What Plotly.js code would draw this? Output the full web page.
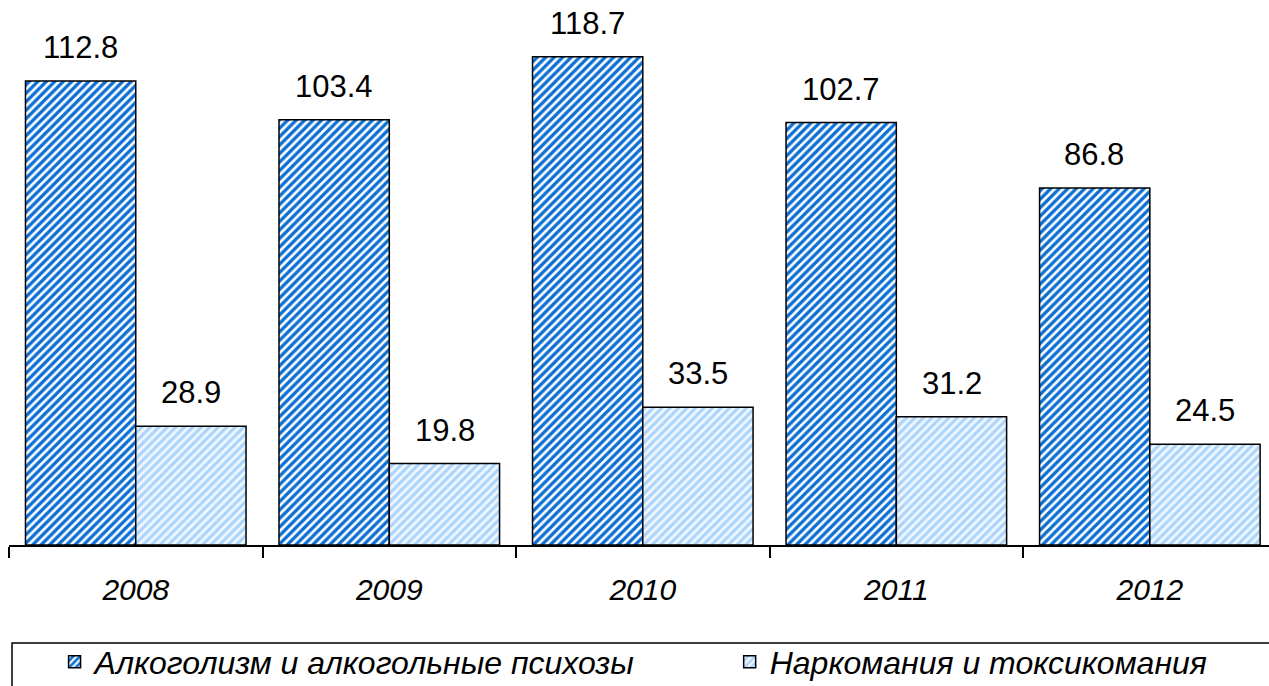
<!DOCTYPE html>
<html><head><meta charset="utf-8">
<script src="https://cdn.plot.ly/plotly-3.0.1.min.js"></script>
<style>html,body{margin:0;padding:0;background:#fff}#chart{width:1269px;height:686px}</style>
</head><body><div id="chart"></div>
<script>
const years = ['2008','2009','2010','2011','2012'];
const seriesNames = ['Алкоголизм и алкогольные психозы','Наркомания и токсикомания'];
const alcohol = [112.8, 103.4, 118.7, 102.7, 86.8];
const drugs = [28.9, 19.8, 33.5, 31.2, 24.5];

const FONT = 'Liberation Sans, Arial, sans-serif';
const traces = [
  {type:'bar', name:seriesNames[0], x:years, y:alcohol, legend:'legend',
   marker:{color:'#ffffff', line:{color:'#000', width:1.5},
     pattern:{shape:'/', fgcolor:'#0b6fd4', bgcolor:'#ffffff', size:6, solidity:0.55, fillmode:'replace'}}},
  {type:'bar', name:seriesNames[1], x:years, y:drugs, legend:'legend2',
   marker:{color:'#ffffff', line:{color:'#000', width:1.5},
     pattern:{shape:'/', fgcolor:'#a9d3fb', bgcolor:'#eef6ff', size:6, solidity:0.5, fillmode:'replace'}}}
];
const ann = [];
years.forEach((yr,i)=>{
  ann.push({x:i, y:alcohol[i], text:alcohol[i].toFixed(1), xref:'x', yref:'y', showarrow:false,
    xshift:-55.5, yanchor:'bottom', yshift:14, font:{family:FONT,size:31,color:'#000'}});
  ann.push({x:i, y:drugs[i], text:drugs[i].toFixed(1), xref:'x', yref:'y', showarrow:false,
    xshift:55.5, yanchor:'bottom', yshift:14, font:{family:FONT,size:31,color:'#000'}});
});
const legFont = {family:FONT, size:32, color:'#000', style:'italic'};
const layout = {
  width:1269, height:686,
  margin:{l:9, r:0, t:0, b:141, autoexpand:false},
  paper_bgcolor:'#fff', plot_bgcolor:'#fff',
  barmode:'group', bargap:0.13, bargroupgap:0,
  showlegend:true,
  legend:{orientation:'h', xref:'container', yref:'container', x:0.043, xanchor:'left', y:0.075, yanchor:'top',
    font:legFont, bgcolor:'rgba(0,0,0,0)'},
  legend2:{orientation:'h', xref:'container', yref:'container', x:0.575, xanchor:'left', y:0.075, yanchor:'top',
    font:legFont, bgcolor:'rgba(0,0,0,0)'},
  xaxis:{type:'category', range:[-0.5,4.47], showline:true, linecolor:'#000', linewidth:2,
    ticks:'outside', tickson:'boundaries', ticklen:11, tickwidth:2, tickcolor:'#000',
    ticklabelstandoff:17,
    tickfont:{family:FONT, size:30, color:'#000', style:'italic'}, showgrid:false, zeroline:false, fixedrange:true},
  yaxis:{range:[0,132.5], visible:false, showgrid:false, zeroline:false, fixedrange:true},
  annotations:ann,
  shapes:[{type:'rect', xref:'paper', yref:'paper', x0:0.0024, x1:1.05, y0:-0.1798, y1:-0.32,
    line:{color:'#000', width:1.5}, fillcolor:'rgba(0,0,0,0)'}]
};
Plotly.newPlot('chart', traces, layout, {displayModeBar:false, staticPlot:true});
</script></body></html>
